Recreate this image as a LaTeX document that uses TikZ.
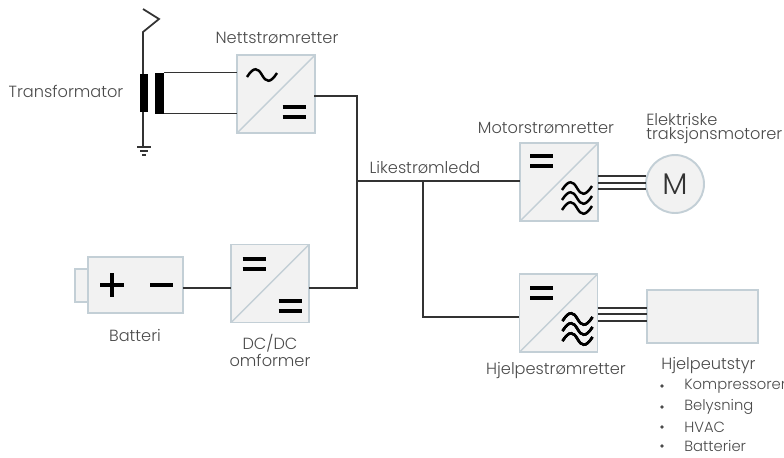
\documentclass[tikz,border=0pt]{standalone}
\usepackage{fontspec}
\setmainfont{Poppins Light}
\definecolor{ramme}{HTML}{C3CFD6}
\definecolor{flate}{HTML}{F2F2F2}
\definecolor{leder}{HTML}{333333}
\definecolor{tekst}{HTML}{4A4A4A}
\tikzset{
    boks/.style={draw=ramme,fill=flate,line width=1.1pt,outer sep=0pt,inner sep=0pt},
    retter/.style={boks,minimum size=1.56cm},
    ledning/.style={draw=leder,line width=.85pt},
    symbol/.style={draw=black,line width=2pt},
    etikett/.style={text=tekst,font=\fontsize{9.2}{11}\selectfont,inner sep=0pt},
    liste/.style={etikett,anchor=west,font=\fontsize{8.4}{10}\selectfont},
}
\begin{document}
\begin{tikzpicture}[x=.02cm,y=-.02cm]
    \def\likesym#1{\draw[symbol,shift={(#1)}] (-11.5,-5)--(11.5,-5) (-11.5,5)--(11.5,5);}
    \def\bolge{(-15,2) .. controls (-8,-9) and (-4,-7) .. (0,0) .. controls (4,7) and (8,9) .. (15,-2)}
    \def\vekselsym#1{\draw[symbol,line width=1.4pt,shift={(#1)}] \bolge;}
    \useasboundingbox (0,0) rectangle (784,457);
    %===========================================
    \node[retter] (nett) at (276,94) {};
    \node[retter] (dcdc) at (270,283.5) {};
    \node[retter] (motorretter) at (559,182) {};
    \node[retter] (hjelperetter) at (558.5,313) {};
    \draw[ramme,fill=flate,line width=.8pt] (75,269) rectangle (88,302);
    \node[boks,minimum width=1.9cm,minimum height=1.12cm] (batteri) at (135.5,285) {};
    \node[boks,minimum width=2.22cm,minimum height=1.06cm] (utstyr) at (702.5,316.5) {};
    \node[boks,circle,minimum size=1.16cm] (motor) at (675,184) {};
    \foreach \r in {nett,dcdc,motorretter,hjelperetter}
        \draw[ramme,line width=.8pt] (\r.south west)--(\r.north east);
    %===========================================
    \coordinate (antenne) at (143,32);
    \coordinate (jord) at (143,147);
    \coordinate (nettut) at (314,96);
    \coordinate (dcinn) at (231,288);
    \coordinate (dcut) at (309,288);
    \coordinate (hjelpinn) at (519,317);
    \coordinate (knute) at (357,181);
    \coordinate (grein) at (423,181);
    \draw[ledning,line width=1pt] (143,9)--(159,19)--(antenne)--(jord);
    \draw[ledning] (137,147)--(151,147) (140,151)--(148,151) (142,155)--(146,155);
    \fill[black] (139.5,74) rectangle (148,112);
    \fill[black] (155,72.5) rectangle (164,114);
    \draw[ledning] (164,72.5)--(nett.west|-0,72.5) (164,113.5)--(nett.west|-0,113.5);
    \draw[ledning,line width=1.1pt] (nettut)-|(knute)--(motorretter.west|-knute);
    \draw[ledning,line width=1.1pt] (knute)|-(dcut);
    \draw[ledning] (grein)|-(hjelpinn);
    \draw[ledning] (batteri.east|-dcinn)--(dcinn);
    \foreach \y in {176,183,189} \draw[ledning] (motorretter.east|-0,\y)--(motor.west|-0,\y);
    \foreach \y in {308,314,321} \draw[ledning] (hjelperetter.east|-0,\y)--(utstyr.west|-0,\y);
    %===========================================
    \vekselsym{262,75}
    \likesym{294,112}
    \likesym{254,264}
    \likesym{290,306}
    \likesym{541.5,161}
    \likesym{541.5,293}
    \foreach \y in {188,198,208} \vekselsym{577,\y}
    \foreach \y in {319,329,339} \vekselsym{577.5,\y}
    \draw[symbol] (112,273)--(112,297) (100,285)--(124,285) (150,285)--(173,285);
    %===========================================
    \node[font=\fontsize{17}{17}\selectfont,text=black!80] (m) at (motor) {M};
    \node[etikett] (ltrafo) at (66,91) {Transformator};
    \node[etikett] (lnett) at (277,38) {Nettstrømretter};
    \node[etikett] (lbatteri) at (135,335) {Batteri};
    \node[etikett] (ldcdc) at (270,343) {DC/DC};
    \node[etikett] (lomformer) at (270,360) {omformer};
    \node[etikett] (lbuss) at (425,167) {Likestrømledd};
    \node[etikett] (lmotorretter) at (546,128) {Motorstrømretter};
    \node[etikett,anchor=west] (lelektrisk) at (646,119) {Elektriske};
    \node[etikett,anchor=west] (ltraksjon) at (646,136) {traksjonsmotorer};
    \node[etikett] (lhjelperetter) at (556,370) {Hjelpestrømretter};
    \node[etikett,anchor=west] (lutstyr) at (661,365) {Hjelpeutstyr};
    \foreach \y/\t in {386/Kompressorer,407/Belysning,427/HVAC,446/Batterier}{
        \fill[tekst] (662,\y) circle (1.8);
        \node[liste] (l\t) at (684,\y) {\t};
    }
\end{tikzpicture}
\end{document}
